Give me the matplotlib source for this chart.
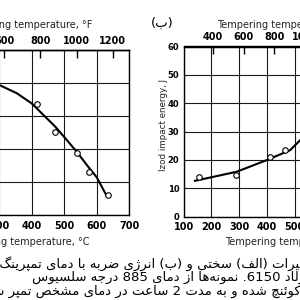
import matplotlib
matplotlib.use("Agg")
import matplotlib.pyplot as plt
from matplotlib import font_manager as fm
from matplotlib.font_manager import FontProperties

# ---------------- data ----------------
# (a) hardness vs tempering temperature (left panel, y scale not visible)
hard_point_temp = [415, 470, 538, 577, 636]
hard_point_val = [43.5, 35.2, 28.7, 22.9, 16.1]
hard_curve_temp = [300, 354, 400, 436, 472, 508, 538, 569, 600, 632]
hard_curve_val = [49.4, 46.9, 43.8, 40.3, 36.8, 32.7, 29.2, 25.2, 21.4, 15.5]

# (b) Izod impact energy vs tempering temperature (right panel)
impact_point_temp = [157, 289, 411, 465]
impact_point_val = [14.0, 14.8, 21.1, 23.4]
impact_curve_temp = [141, 207, 291, 399, 483, 520]
impact_curve_val = [12.6, 14.0, 15.8, 19.9, 23.4, 27.0]

celsius_ticks = [100, 200, 300, 400, 500, 600, 700]
fahrenheit_ticks = [400, 600, 800, 1000, 1200]
hard_grid = [10, 20, 30, 40, 50, 60]
impact_ticks = [0, 10, 20, 30, 40, 50, 60]

xlabel_c = "Tempering temperature, °C"
xlabel_f = "Tempering temperature, °F"
ylabel_b = "Izod impact energy, J"
panel_b = "(ب)"
caption_lines = [
    "شکل 10-1- تغییرات (الف) سختی و (ب) انرژی ضربه با دمای تمپرینگ برای",
    "فولاد 6150. نمونه‌ها از دمای 885 درجه سلسیوس",
    "در روغن کوئنچ شده و به مدت 2 ساعت در دمای مشخص تمپر شده‌اند.",
]

# ---------------- Arabic / Persian shaping (presentation forms) ----------------
def _q(b):
    return (b, b + 1, b + 2, b + 3)

def _r(b):
    return (b, b + 1, None, None)

FORMS = {
    'ا': _r(0xFE8D), 'آ': _r(0xFE81), 'ب': _q(0xFE8F), 'پ': _q(0xFB56),
    'ت': _q(0xFE95), 'ث': _q(0xFE99), 'ج': _q(0xFE9D), 'چ': _q(0xFB7A),
    'ح': _q(0xFEA1), 'خ': _q(0xFEA5), 'د': _r(0xFEA9), 'ذ': _r(0xFEAB),
    'ر': _r(0xFEAD), 'ز': _r(0xFEAF), 'ژ': _r(0xFB8A), 'س': _q(0xFEB1),
    'ش': _q(0xFEB5), 'ص': _q(0xFEB9), 'ض': _q(0xFEBD), 'ط': _q(0xFEC1),
    'ظ': _q(0xFEC5), 'ع': _q(0xFEC9), 'غ': _q(0xFECD), 'ف': _q(0xFED1),
    'ق': _q(0xFED5), 'ک': _q(0xFB8E), 'گ': _q(0xFB92), 'ل': _q(0xFEDD),
    'م': _q(0xFEE1), 'ن': _q(0xFEE5), 'ه': _q(0xFEE9), 'و': _r(0xFEED),
    'ی': _q(0xFBFC), 'ئ': _q(0xFE89),
}
MIRROR = {'(': ')', ')': '('}


def shape(s):
    out = []
    for i, c in enumerate(s):
        if c not in FORMS:
            if c != '\u200c':
                out.append(c)
            continue
        prev = s[i - 1] if i > 0 else ''
        nxt = s[i + 1] if i + 1 < len(s) else ''
        pj = prev in FORMS and FORMS[prev][2] is not None
        nj = FORMS[c][2] is not None and nxt in FORMS
        iso, fin, ini, med = FORMS[c]
        if pj and nj:
            g = med
        elif pj:
            g = fin
        elif nj:
            g = ini
        else:
            g = iso
        out.append(chr(g))
    return ''.join(out)


def visual(s):
    sh = shape(s)
    tokens = []
    i = 0
    while i < len(sh):
        if sh[i].isdigit():
            j = i
            while j < len(sh) and (sh[j].isdigit() or (sh[j] in '.-,' and j + 1 < len(sh) and sh[j + 1].isdigit())):
                j += 1
            tokens.append(sh[i:j])
            i = j
        else:
            tokens.append(MIRROR.get(sh[i], sh[i]))
            i += 1
    return ''.join(reversed(tokens))


# ---------------- fonts ----------------
names = {f.name for f in fm.fontManager.ttflist}
NARROW = 'Liberation Sans Narrow' if 'Liberation Sans Narrow' in names else 'DejaVu Sans'
ARABIC = 'DejaVu Sans'

W = H = 300.0
fig = plt.figure(figsize=(3, 3), dpi=100)
fig.patch.set_facecolor('white')


def px_axes(l, t, r, b):
    return fig.add_axes([l / W, 1 - b / H, (r - l) / W, (b - t) / H])


def c2f(c):
    return c * 9.0 / 5.0 + 32.0


def f2c(f):
    return (f - 32.0) * 5.0 / 9.0


def style(ax, xlim, ylim, yticks, pad_x, pad_y, show_y):
    ax.set_xlim(*xlim)
    ax.set_ylim(*ylim)
    ax.set_xticks(celsius_ticks)
    ax.set_yticks(yticks)
    ax.grid(True, color='#1a1a1a', lw=0.8)
    ax.set_axisbelow(True)
    for sp in ax.spines.values():
        sp.set_linewidth(1.0)
        sp.set_color('black')
    ax.tick_params(axis='x', length=0, pad=pad_x, labelsize=7)
    ax.tick_params(axis='y', length=0, pad=pad_y, labelsize=6)
    for lab in ax.get_xticklabels() + ax.get_yticklabels():
        lab.set_fontfamily(NARROW)
        lab.set_fontweight('bold')
    if not show_y:
        ax.set_yticklabels([])
    sec = ax.secondary_xaxis('top', functions=(c2f, f2c))
    sec.set_xticks(fahrenheit_ticks)
    sec.tick_params(direction='in', length=6, width=1.0, pad=3.0, labelsize=7)
    for lab in sec.get_xticklabels():
        lab.set_fontfamily(NARROW)
        lab.set_fontweight('bold')
    sec.spines['top'].set_linewidth(1.0)


# left panel (a) hardness
axa = px_axes(-65.8, 50, 129.3, 215)
style(axa, (100, 700), (10, 60), hard_grid, 4.5, 3, False)
axa.plot(hard_curve_temp, hard_curve_val, color='black', lw=1.5, zorder=3)
axa.plot(hard_point_temp, hard_point_val, 'o', ms=4, mfc='white', mec='black', mew=0.8, zorder=4)

# right panel (b) impact energy
axb = px_axes(183.6, 46.5, 350.4, 216.5)
style(axb, (100, 700), (0, 60), impact_ticks, 3.6, 3.0, True)
axb.plot(impact_curve_temp, impact_curve_val, color='black', lw=1.5, zorder=3)
axb.plot(impact_point_temp, impact_point_val, 'o', ms=4, mfc='white', mec='black', mew=0.8, zorder=4)

# axis titles (partially cut by the figure edge, as in the source)
tk = dict(fontsize=7, family=NARROW, va='center', color='#222222')
fig.text(92 / W, 1 - 25 / H, xlabel_f, ha='right', **tk)
fig.text(217 / W, 1 - 25 / H, xlabel_f, ha='left', **tk)
fig.text(90 / W, 1 - 242 / H, xlabel_c, ha='right', **tk)
fig.text(225 / W, 1 - 242 / H, xlabel_c, ha='left', **tk)
fig.text(163 / W, 1 - 125 / H, ylabel_b, rotation=90, ha='center', va='center',
         fontsize=6.3, family=NARROW, color='#222222')
fig.text(162 / W, 1 - 23 / H, visual(panel_b), ha='center', va='center', fontsize=9.5, family=ARABIC)

# Persian caption, right-to-left, placed so it is cut by the edges like the source
cap_size = 9.5
fp = FontProperties(family=ARABIC, size=cap_size)
renderer = fig.canvas.get_renderer()


def tw(s):
    w, h, d = renderer.get_text_width_height_descent(s, fp, ismath=False)
    return w

vis = [visual(line) for line in caption_lines]
x1 = -1 - tw(visual("برای") + " ")
x2 = 32
x3 = 4 - tw(visual("شده‌اند."))
for x, y, s in zip([x1, x2, x3], [264, 277.5, 291], vis):
    fig.text(x / W, 1 - y / H, s, ha='left', va='center', fontproperties=fp, color='black')

fig.savefig('out.png', dpi=100, facecolor='white')
